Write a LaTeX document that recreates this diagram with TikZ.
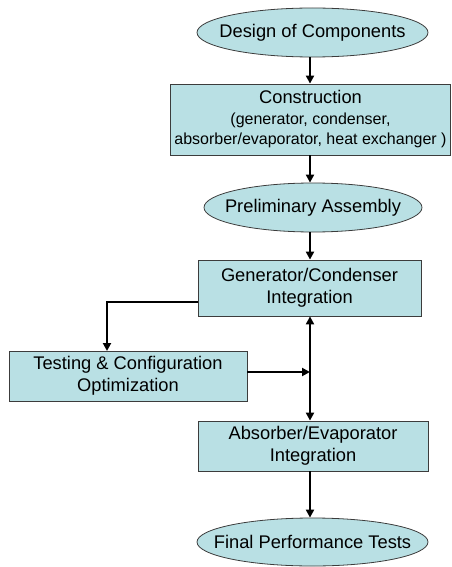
\documentclass[tikz,border=0pt]{standalone}
\usepackage{fontspec}
\setmainfont{Liberation Sans}
\usetikzlibrary{shapes.geometric,arrows.meta}
\definecolor{boxfill}{RGB}{185,224,228}
\definecolor{boxline}{RGB}{60,60,60}
\begin{document}
\begin{tikzpicture}[x=1pt,y=-1pt,
  base/.style={draw=boxline,line width=0.8pt,fill=boxfill,inner sep=0pt,align=center,
    font=\fontsize{18.3}{22}\selectfont},
  oval/.style={base,ellipse},
  rbox/.style={base,rectangle},
  arr/.style={line width=2.8pt,-{Triangle[length=8pt,width=8pt]}}]
\useasboundingbox (0,0) rectangle (451,567);
\coordinate (spine) at (310,0);
\node[oval,minimum width=231pt,minimum height=49pt] (design) at (312.5,32.5) {\makebox[0pt]{Design of Components}};
\node[rbox,minimum width=280pt,minimum height=71pt] (constr) at (310.5,119.5)
  {Construction\\[-1pt]{\fontsize{16}{19.2}\selectfont (generator, condenser,}\\[-2pt]{\fontsize{16}{19.2}\selectfont absorber/evaporator, heat exchanger )}};
\node[oval,minimum width=218pt,minimum height=49pt] (prelim) at (313,207.5) {\makebox[0pt]{Preliminary Assembly}};
\node[rbox,minimum width=223pt,minimum height=56pt] (gen) at (309.5,288) {Generator/Condenser\\Integration};
\node[rbox,minimum width=238pt,minimum height=50pt] (test) at (128,376) {Testing \& Configuration\\Optimization};
\node[rbox,minimum width=230pt,minimum height=50pt] (absorb) at (313,446) {Absorber/Evaporator\\Integration};
\node[oval,minimum width=231pt,minimum height=48pt] (final) at (312.5,542) {\makebox[0pt]{Final Performance Tests}};
\coordinate (gl) at (198,302);
\coordinate (tn) at (107,351);
\coordinate (jn) at (310,372);
\draw[arr] (design.south -| spine) -- (constr.north -| spine);
\draw[arr] (constr.south -| spine) -- (prelim.north -| spine);
\draw[arr] (prelim.south -| spine) -- (gen.north -| spine);
\draw[arr] (gl) -| (tn);
\draw[arr] (test.east |- jn) -- (jn);
\draw[arr] (jn) -- (gen.south -| spine);
\draw[arr] (jn) -- (absorb.north -| spine);
\draw[arr] (absorb.south -| spine) -- (final.north -| spine);
\end{tikzpicture}
\end{document}
